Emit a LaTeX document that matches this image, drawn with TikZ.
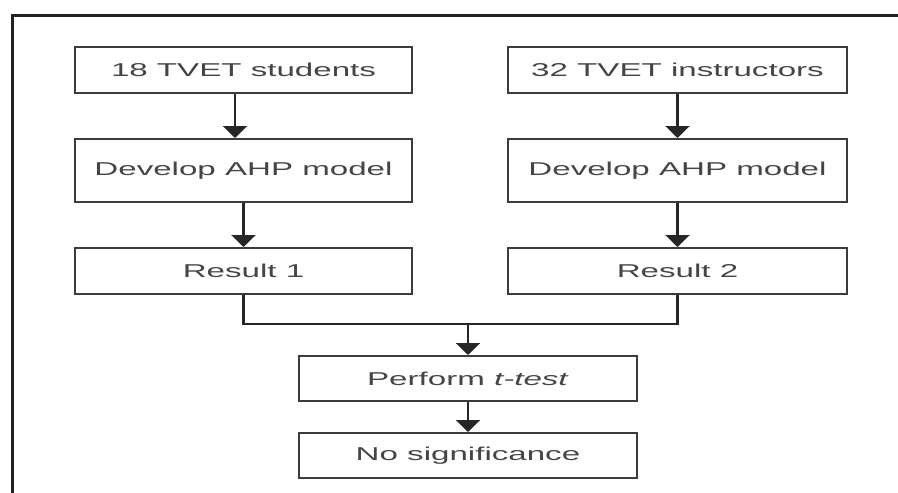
\documentclass[tikz,border=0pt]{standalone}
\usepackage{fontspec}
\setmainfont[FakeStretch=1.78]{Liberation Sans}
\usetikzlibrary{arrows.meta}
\definecolor{boxline}{HTML}{3C3C3C}
\definecolor{boxtext}{HTML}{454545}
\definecolor{frameline}{HTML}{222222}
\begin{document}
\begin{tikzpicture}[x=1pt,y=-1pt,
  stage/.style={draw=boxline, line width=2pt, fill=white, inner sep=0pt,
    text=boxtext, font=\fontsize{18.6}{22}\selectfont},
  link/.style={line width=2.4pt, draw=black!85},
  flow/.style={link, -{Triangle[width=24pt,length=12pt]}},
]
\useasboundingbox (0,0) rectangle (898,493);
\fill[white] (0,0) rectangle (898,493);
% outer frame corner
\draw[line width=3pt, frameline] (12,493) -- (12,15) -- (898,15);

% left branch
\node[stage, minimum width=337pt, minimum height=46pt] (stu) at (243.5,70) {18 TVET students};
\node[stage, minimum width=337pt, minimum height=63pt] (devA) at (243.5,170.5) {Develop AHP model};
\node[stage, minimum width=337pt, minimum height=46pt] (resA) at (243.5,271) {Result 1};

% right branch
\node[stage, minimum width=339pt, minimum height=46pt] (ins) at (677.5,70) {32 TVET instructors};
\node[stage, minimum width=339pt, minimum height=63pt] (devB) at (677.5,170.5) {Develop AHP model};
\node[stage, minimum width=339pt, minimum height=46pt] (resB) at (677.5,271) {Result 2};

% joint stages
\node[stage, minimum width=338pt, minimum height=45pt] (ttest) at (468,378.5) {Perform \textit{t-test}};
\node[stage, minimum width=338pt, minimum height=45pt] (nosig) at (468,455.5) {No significance};

% connectors
\draw[flow] ([xshift=-8.5pt]stu.south) -- ([xshift=-8.5pt]devA.north);
\draw[flow] (devA) -- (resA);
\draw[flow] (ins) -- (devB);
\draw[flow] (devB) -- (resB);
\coordinate (join) at (468,324);
\draw[link] (resA.south) |- (join) -| (resB.south);
\draw[flow] (join) -- (ttest.north);
\draw[flow] (ttest) -- (nosig);
\end{tikzpicture}
\end{document}
